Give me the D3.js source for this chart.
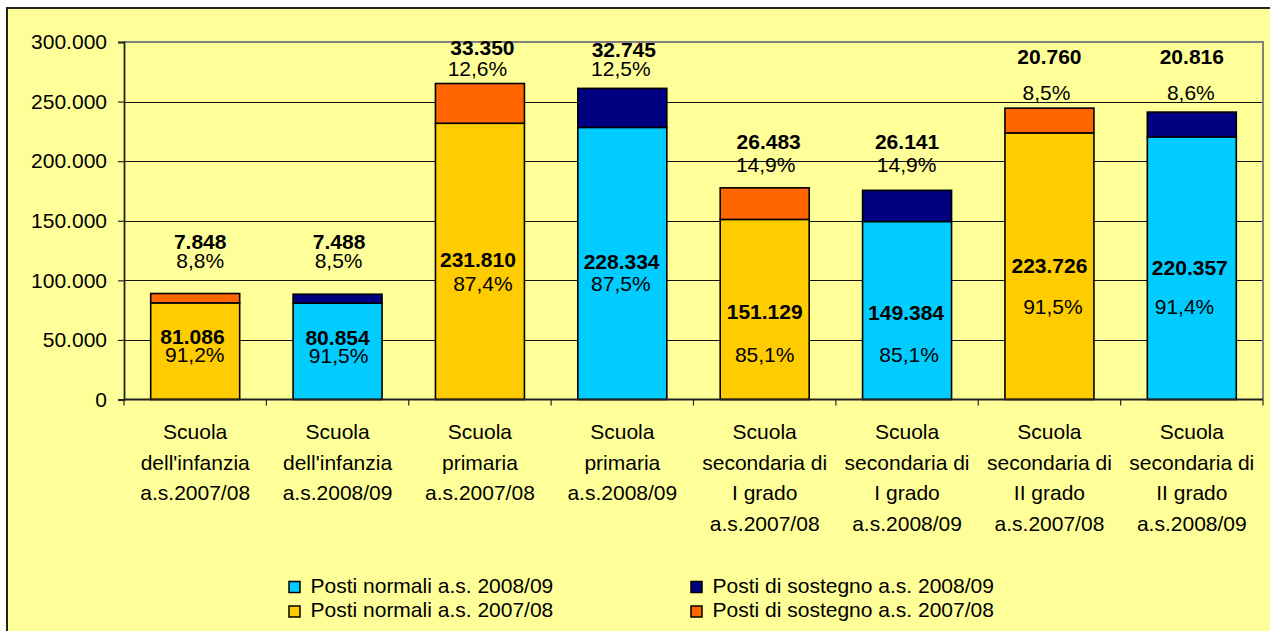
<!DOCTYPE html>
<html><head><meta charset="utf-8">
<script src="https://cdn.jsdelivr.net/npm/d3@7"></script>
<style>html,body{margin:0;padding:0;background:#fff;}svg{display:block;font-family:"Liberation Sans",Arial,sans-serif;}</style>
</head><body>
<svg id="c" width="1270" height="631"></svg>
<script>
// ---- data ----
const categories = [
  ["Scuola","dell'infanzia","a.s.2007/08"],
  ["Scuola","dell'infanzia","a.s.2008/09"],
  ["Scuola","primaria","a.s.2007/08"],
  ["Scuola","primaria","a.s.2008/09"],
  ["Scuola","secondaria di","I grado","a.s.2007/08"],
  ["Scuola","secondaria di","I grado","a.s.2008/09"],
  ["Scuola","secondaria di","II grado","a.s.2007/08"],
  ["Scuola","secondaria di","II grado","a.s.2008/09"]
];
const schoolYear = ["2007/08","2008/09","2007/08","2008/09","2007/08","2008/09","2007/08","2008/09"];
const postiNormali = [81086, 80854, 231810, 228334, 151129, 149384, 223726, 220357];
const postiSostegno = [7848, 7488, 33350, 32745, 26483, 26141, 20760, 20816];
const pctNormali = ["91,2%","91,5%","87,4%","87,5%","85,1%","85,1%","91,5%","91,4%"];
const pctSostegno = ["8,8%","8,5%","12,6%","12,5%","14,9%","14,9%","8,5%","8,6%"];
const yTicks = [0, 50000, 100000, 150000, 200000, 250000, 300000];
const legendItems = [
  {label:"Posti normali a.s. 2008/09", key:"n2008"},
  {label:"Posti di sostegno a.s. 2008/09", key:"s2008"},
  {label:"Posti normali a.s. 2007/08", key:"n2007"},
  {label:"Posti di sostegno a.s. 2007/08", key:"s2007"}
];

// ---- layout (label anchors expressed in value units, small x nudges in px) ----
const supValLabelAt = [132600, 132600, 295800, 293700, 216300, 216700, 288100, 288100];
const supPctLabelAt = [116600, 116600, 278200, 277800, 197500, 197500, 257600, 257600];
const norValLabelAt = [53300, 52400, 117900, 116000, 74000, 72800, 112600, 111000];
const norPctLabelAt = [37800, 37300, 97300, 97500, 37600, 37600, 78300, 78300];
const supValDx = [5, 1.5, 2.5, 1.5, 4, 0, 0, 0];
const supPctDx = [5, 1, -2.5, -1.5, 1, -0.5, -3, -1];
const norValDx = [-2.7, 0, -2, -0.7, 0, -1, 0, -2];
const norPctDx = [-0.4, 1, 3, -1.5, 0, 2, 3.5, -7.3];

// ---- styles ----
const colors = {n2008:"#00CCFF", s2008:"#000080", n2007:"#FFCC00", s2007:"#FF6600"};
const bg = "#FFFF99";

const svg = d3.select("#c");
// outer chart frame
svg.append("rect").attr("x",7).attr("y",8).attr("width",1280).attr("height",640)
  .attr("fill",bg).attr("stroke","#222").attr("stroke-width",2);

const plot = {left:124, right:1263, top:42, bottom:399.5};
const x = d3.scaleBand().domain(d3.range(categories.length))
  .range([plot.left, plot.right]).paddingInner(0.375).paddingOuter(0.1875);
const y = d3.scaleLinear().domain([0, 300000]).range([plot.bottom, plot.top]);

const loc = d3.formatLocale({decimal:",", thousands:".", grouping:[3], currency:["","€"]});
const fmt = loc.format(",d");

// gridlines
svg.append("g").selectAll("line").data(yTicks.filter(t => t > 0 && t < 300000)).join("line")
  .attr("x1",plot.left).attr("x2",plot.right)
  .attr("y1",d => Math.round(y(d))+0.5).attr("y2",d => Math.round(y(d))+0.5)
  .attr("stroke","#111").attr("stroke-width",1);
// plot-area border (top/right gray)
svg.append("path")
  .attr("d",`M${plot.left},${y(300000)}H${plot.right}V${plot.bottom}`)
  .attr("fill","none").attr("stroke","#808080").attr("stroke-width",2);

// bars
const g = svg.append("g");
categories.forEach((c,i) => {
  const yr = schoolYear[i] === "2008/09" ? "2008" : "2007";
  const x0 = x(i), w = x.bandwidth();
  g.append("rect").attr("x",x0).attr("width",w)
    .attr("y",y(postiNormali[i])).attr("height",y(0)-y(postiNormali[i]))
    .attr("fill",colors["n"+yr]).attr("stroke","#000").attr("stroke-width",1.6);
  const tot = postiNormali[i] + postiSostegno[i];
  g.append("rect").attr("x",x0).attr("width",w)
    .attr("y",y(tot)).attr("height",y(postiNormali[i])-y(tot))
    .attr("fill",colors["s"+yr]).attr("stroke","#000").attr("stroke-width",1.6);
});

// axes
const yAxis = svg.append("g").attr("transform",`translate(${plot.left},0)`)
  .call(d3.axisLeft(y).tickValues(yTicks).tickFormat(d => fmt(d)).tickSize(6).tickPadding(11));
yAxis.select(".domain").attr("stroke","#222").attr("stroke-width",1.8);
yAxis.selectAll(".tick line").attr("stroke","#222").attr("stroke-width",1.2);
yAxis.selectAll("text").attr("font-size",21).attr("fill","#000")
  .attr("font-family",'"Liberation Sans",Arial,sans-serif');

const xb = d3.scaleLinear().domain([0, categories.length]).range([plot.left, plot.right]);
const xAxis = svg.append("g").attr("transform",`translate(0,${plot.bottom})`);
xAxis.append("line").attr("x1",plot.left).attr("x2",plot.right).attr("y1",0).attr("y2",0)
  .attr("stroke","#222").attr("stroke-width",1.8);
xAxis.selectAll("line.tk").data(d3.range(categories.length+1)).join("line").attr("class","tk")
  .attr("x1",d => xb(d)).attr("x2",d => xb(d)).attr("y1",0).attr("y2",6)
  .attr("stroke","#222").attr("stroke-width",1.2);

// category labels
categories.forEach((lines,i) => {
  const cx = x(i) + x.bandwidth()/2;
  const t = svg.append("text").attr("text-anchor","middle").attr("font-size",21).attr("fill","#000");
  lines.forEach((ln,k) => {
    t.append("tspan").attr("x",cx).attr("y",plot.bottom + 39.5 + k*30.7).text(ln);
  });
});

// value labels
const lab = svg.append("g").attr("text-anchor","middle").attr("fill","#000").attr("font-size",21);
categories.forEach((c,i) => {
  const cx = x(i) + x.bandwidth()/2;
  lab.append("text").attr("x",cx+supValDx[i]).attr("y",y(supValLabelAt[i])).attr("dy","0.36em")
    .attr("font-weight","bold").text(fmt(postiSostegno[i]));
  lab.append("text").attr("x",cx+supPctDx[i]).attr("y",y(supPctLabelAt[i])).attr("dy","0.36em")
    .text(pctSostegno[i]);
  lab.append("text").attr("x",cx+norValDx[i]).attr("y",y(norValLabelAt[i])).attr("dy","0.36em")
    .attr("font-weight","bold").text(fmt(postiNormali[i]));
  lab.append("text").attr("x",cx+norPctDx[i]).attr("y",y(norPctLabelAt[i])).attr("dy","0.36em")
    .text(pctNormali[i]);
});

// legend
const legCols = [289, 691], legRows = [581.5, 606];
const leg = svg.append("g");
legendItems.forEach((it,k) => {
  const col = k % 2, row = Math.floor(k/2);
  const gx = legCols[col], gy = legRows[row];
  leg.append("rect").attr("x",gx).attr("y",gy).attr("width",11).attr("height",11)
    .attr("fill",colors[it.key]).attr("stroke","#000").attr("stroke-width",1.5);
  leg.append("text").attr("x",gx+21.5).attr("y",gy+11)
    .attr("font-size",21).attr("fill","#000").text(it.label);
});
</script>
</body></html>
